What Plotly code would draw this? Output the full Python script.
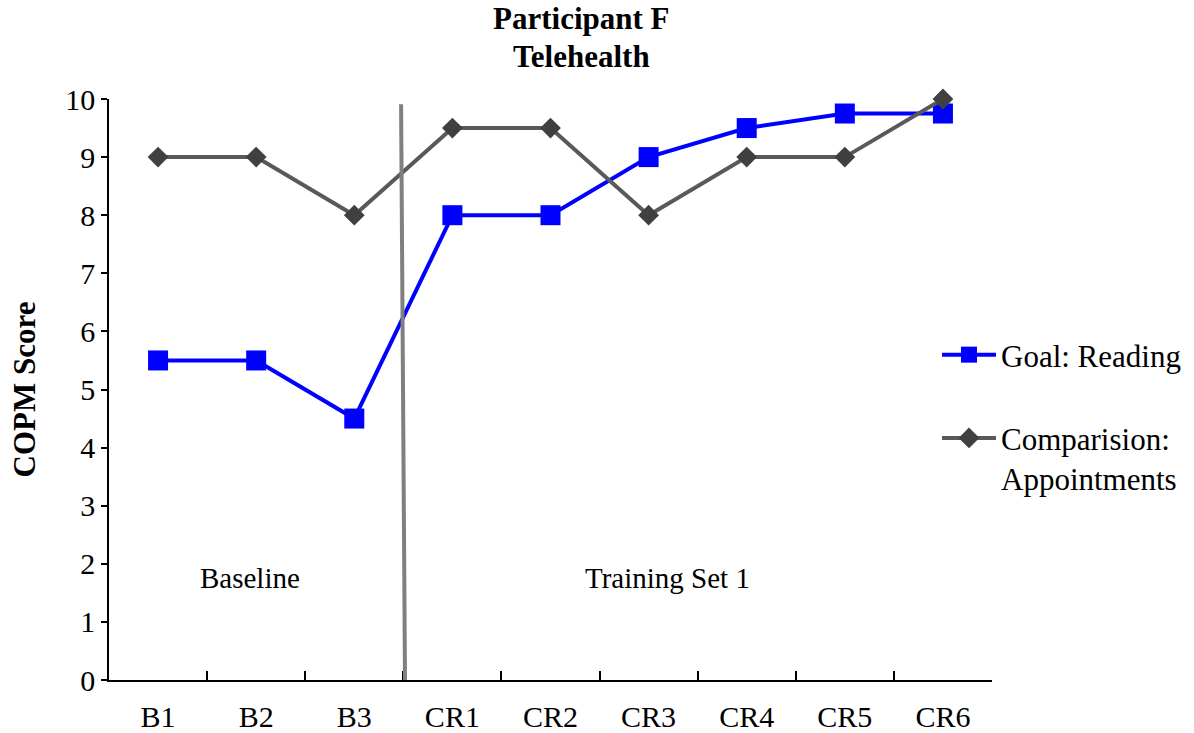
import plotly.graph_objects as go

categories = ["B1", "B2", "B3", "CR1", "CR2", "CR3", "CR4", "CR5", "CR6"]
goal_reading = [5.5, 5.5, 4.5, 8, 8, 9, 9.5, 9.75, 9.75]
comparison_appointments = [9, 9, 8, 9.5, 9.5, 8, 9, 9, 10]
y_ticks = list(range(0, 11))

FONT = "Liberation Serif, Times New Roman, serif"

W, H = 1194, 733
L, R, T, B = 109, 202, 99, 53
PW, PH = W - L - R, H - T - B


def px_x(p):
    return (p - L) / PW


def px_y(p):
    return (H - B - p) / PH


fig = go.Figure()
fig.add_trace(go.Scatter(
    x=categories, y=goal_reading, mode="lines+markers", name="Goal: Reading",
    line=dict(color="#0000FF", width=4),
    marker=dict(symbol="square", size=20, color="#0000FF"),
    cliponaxis=False, legendgroup="g1",
))
fig.add_trace(go.Scatter(
    x=categories, y=comparison_appointments, mode="lines+markers",
    name="Comparision:<br>Appointments",
    line=dict(color="#595959", width=4),
    marker=dict(symbol="diamond", size=16, color="#404040"),
    cliponaxis=False, legendgroup="g2",
))

# phase change line
fig.add_shape(type="line", xref="x", yref="y", x0=2.477, y0=9.91, x1=2.517, y1=0,
              line=dict(color="#808080", width=4))

fig.add_annotation(x=0.94, y=1.76, xref="x", yref="y", text="Baseline", showarrow=False,
                   font=dict(family=FONT, size=29, color="black"))
fig.add_annotation(x=5.19, y=1.76, xref="x", yref="y", text="Training Set 1", showarrow=False,
                   font=dict(family=FONT, size=29, color="black"))

fig.add_annotation(x=px_x(581), y=px_y(18), xref="paper", yref="paper",
                   xanchor="center", yanchor="middle", text="<b>Participant F</b>",
                   showarrow=False, font=dict(family=FONT, size=31, color="black"))
fig.add_annotation(x=px_x(581), y=px_y(57), xref="paper", yref="paper",
                   xanchor="center", yanchor="middle", text="<b>Telehealth</b>",
                   showarrow=False, font=dict(family=FONT, size=31, color="black"))

fig.update_layout(
    width=W, height=H, autosize=False,
    margin=dict(l=L, r=R, t=T, b=B, autoexpand=False),
    paper_bgcolor="white", plot_bgcolor="white",
    font=dict(family=FONT, size=30, color="black"),
    showlegend=True,
    legend=dict(x=px_x(937), xanchor="left", y=px_y(328), yanchor="top",
                tracegroupgap=40, valign="top",
                font=dict(family=FONT, size=31, color="black"), itemwidth=54,
                bgcolor="rgba(0,0,0,0)"),
    xaxis=dict(type="category", categoryorder="array", categoryarray=categories,
               range=[-0.5, 8.5], showline=True, linecolor="black", linewidth=1.5,
               ticks="inside", tickson="boundaries", ticklen=9, tickcolor="black", tickwidth=1.5,
               ticklabelstandoff=9,
               showgrid=False, zeroline=False, tickfont=dict(family=FONT, size=30)),
    yaxis=dict(range=[0, 10], tickvals=y_ticks, showline=True, linecolor="black", linewidth=1.5,
               ticks="outside", ticklen=6, tickcolor="black", tickwidth=1.5,
               showgrid=False, zeroline=False, tickfont=dict(family=FONT, size=30),
               title=dict(text="<b>COPM Score</b>", font=dict(family=FONT, size=31), standoff=20)),
)

fig.write_html("out.html", config={"displayModeBar": False},
               post_script="document.body.style.margin='0px';")
